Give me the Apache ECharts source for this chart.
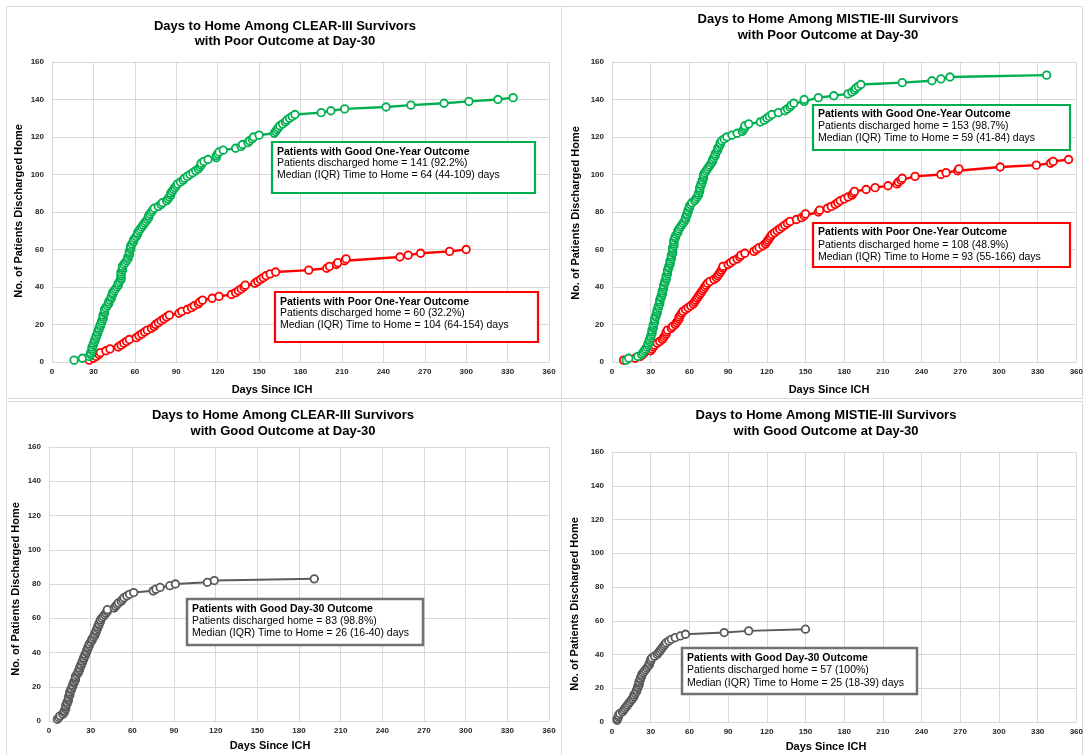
<!DOCTYPE html>
<html><head><meta charset="utf-8">
<script src="https://cdn.jsdelivr.net/npm/echarts@6/dist/echarts.min.js"></script>
<style>html,body{margin:0;padding:0;background:#fff}#c{width:1086px;height:755px}</style>
</head><body><div id="c"></div>
<script>
// Axis ticks
const dayTicks = [0,30,60,90,120,150,180,210,240,270,300,330,360];
const countTicks = [0,20,40,60,80,100,120,140,160];

// CLEAR-III, poor outcome at day-30: discharge days (cumulative order)
const clearPoorGoodYearDays = [16,22,27,28,28,29,29,29,30,30,31,31,32,32,33,33,34,34,35,35,36,36,37,37,37,38,38,38,39,40,41,41,42,43,43,44,44,45,46,47,48,48,49,50,50,50,50,50,51,51,51,52,53,54,55,55,56,56,56,57,57,57,58,59,59,60,61,62,62,63,64,65,66,67,68,69,70,70,71,72,73,74,77,79,80,83,84,85,86,86,87,88,89,90,91,93,95,96,98,100,102,104,106,107,108,108,110,113,119,119,120,121,124,133,137,138,142,143,145,146,150,161,162,163,164,165,167,169,170,172,174,176,195,202,212,242,260,284,302,323,334];
const clearPoorPoorYearDays = [27,30,32,34,35,39,42,48,50,52,54,56,61,63,65,67,69,72,74,75,77,79,81,83,85,92,94,98,101,103,106,107,109,116,121,130,133,135,137,139,140,147,149,151,153,155,158,162,186,199,201,206,207,212,213,252,258,267,288,300];
// MISTIE-III, poor outcome at day-30
const mistiePoorGoodYearDays = [11,13,20,23,24,25,26,27,28,28,29,29,30,30,31,31,31,32,32,32,33,33,33,34,34,35,35,35,36,36,37,37,37,38,38,39,39,39,40,40,40,41,41,42,42,42,43,43,43,44,44,45,45,45,46,46,46,47,47,47,47,48,48,48,48,49,49,50,51,51,52,53,54,55,56,57,57,58,58,59,59,60,60,61,62,64,65,66,67,67,68,68,68,69,69,70,70,71,71,71,72,73,74,75,76,77,78,78,79,80,80,81,82,82,83,84,84,85,87,89,93,97,101,102,103,103,106,115,118,120,122,124,129,134,136,138,139,141,149,149,160,172,183,186,188,189,191,193,225,248,255,262,337];
const mistiePoorPoorYearDays = [9,18,22,24,25,30,31,32,33,35,37,39,40,41,42,42,43,46,47,49,50,51,52,52,53,54,55,57,59,61,63,64,65,66,67,68,69,70,71,72,73,74,76,79,81,82,83,84,85,86,86,90,92,94,97,99,100,103,110,112,114,117,119,120,121,122,123,124,126,128,130,132,134,136,138,143,147,149,150,160,161,167,170,173,175,177,180,183,186,187,188,197,204,214,221,222,224,225,235,255,259,268,269,301,329,340,342,354];
// Good outcome at day-30
const clearGoodDays = [6,7,8,10,11,11,12,12,12,13,13,14,14,14,15,15,15,16,16,17,17,18,18,19,19,19,20,21,21,22,22,23,23,24,24,25,25,26,26,27,27,28,28,29,29,30,31,31,32,33,33,34,34,35,35,36,36,37,37,38,39,40,41,42,42,47,48,49,50,52,53,54,56,58,61,75,77,80,87,91,114,119,191];
const mistieGoodDays = [4,4,5,5,6,8,9,10,11,12,13,14,15,16,17,17,18,19,19,20,20,21,21,21,22,22,23,23,24,25,26,27,28,29,29,30,30,31,33,35,36,37,38,39,40,41,42,44,46,49,53,57,87,106,150];

const titles = [
  ['Days to Home Among CLEAR-III Survivors','with Poor Outcome at Day-30'],
  ['Days to Home Among MISTIE-III Survivors','with Poor Outcome at Day-30'],
  ['Days to Home Among CLEAR-III Survivors','with Good Outcome at Day-30'],
  ['Days to Home Among MISTIE-III Survivors','with Good Outcome at Day-30']
];
const boxTexts = [
  ['Patients with Good One-Year Outcome','Patients discharged home = 141 (92.2%)','Median (IQR) Time to Home = 64 (44-109) days'],
  ['Patients with Poor One-Year Outcome','Patients discharged home = 60 (32.2%)','Median (IQR) Time to Home = 104 (64-154) days'],
  ['Patients with Good One-Year Outcome','Patients discharged home = 153 (98.7%)','Median (IQR) Time to Home = 59 (41-84) days'],
  ['Patients with Poor One-Year Outcome','Patients discharged home = 108 (48.9%)','Median (IQR) Time to Home = 93 (55-166) days'],
  ['Patients with Good Day-30 Outcome','Patients discharged home = 83 (98.8%)','Median (IQR) Time to Home = 26 (16-40) days'],
  ['Patients with Good Day-30 Outcome','Patients discharged home = 57 (100%)','Median (IQR) Time to Home = 25 (18-39) days']
];
const xName = 'Days Since ICH';
const yName = 'No. of Patients Discharged Home';

const GREEN = '#00b050', RED = '#ff0000', GRAY = '#595959', BOXGRAY = '#767171';
const FONT = '"Liberation Sans", Arial, sans-serif';

const grids = [
  {left:52, top:62, width:497, height:300},
  {left:612, top:62, width:465, height:300},
  {left:49, top:447, width:500, height:274},
  {left:612, top:452, width:467, height:270}
];

const xAxes = grids.map((g,i)=>({
  type:'value', gridIndex:i, min:dayTicks[0], max:dayTicks[dayTicks.length-1],
  interval:dayTicks[1]-dayTicks[0],
  axisLine:{show:true, lineStyle:{color:'#d9d9d9', width:1}},
  axisTick:{show:false},
  splitLine:{show:true, lineStyle:{color:'#d9d9d9', width:1}},
  axisLabel:{fontSize:8, fontWeight:'bold', color:'#262626', margin:6, fontFamily:FONT}
}));
const yAxes = grids.map((g,i)=>({
  type:'value', gridIndex:i, min:countTicks[0], max:countTicks[countTicks.length-1],
  interval:countTicks[1]-countTicks[0],
  axisLine:{show:true, lineStyle:{color:'#d9d9d9', width:1}},
  axisTick:{show:false},
  splitLine:{show:true, lineStyle:{color:'#d9d9d9', width:1}},
  axisLabel:{fontSize:8, fontWeight:'bold', color:'#262626', margin:8, fontFamily:FONT}
}));

function mkSeries(days, idx, color, lw){
  return {
    type:'line', xAxisIndex:idx, yAxisIndex:idx,
    data: days.map((d,i)=>[d,i+1]),
    symbol:'circle', symbolSize:7.5, showAllSymbol:true,
    lineStyle:{color:color, width:lw},
    itemStyle:{color:'#ffffff', borderColor:color, borderWidth:1.8},
    emphasis:{disabled:true}, animation:false, z:3
  };
}

const series = [
  mkSeries(clearPoorPoorYearDays,0,RED,2.5),
  mkSeries(clearPoorGoodYearDays,0,GREEN,2.5),
  mkSeries(mistiePoorPoorYearDays,1,RED,2.5),
  mkSeries(mistiePoorGoodYearDays,1,GREEN,2.5),
  mkSeries(clearGoodDays,2,GRAY,2),
  mkSeries(mistieGoodDays,3,GRAY,2)
];

const graphic = [];
// panel borders
[[6,6,555,392],[561,6,521,392],[6,401,555,360],[561,401,521,360]].forEach(r=>{
  graphic.push({type:'rect', shape:{x:r[0]+0.5,y:r[1]+0.5,width:r[2],height:r[3]}, style:{fill:'none', stroke:'#d9d9d9', lineWidth:1}, z:0, silent:true});
});
// titles
const titlePos = [[285,26,41.5],[828,19.5,35],[283,415,431],[826,415.5,431.5]];
titles.forEach((t,i)=>{
  const p = titlePos[i];
  graphic.push({type:'text', x:p[0], y:p[1], style:{text:t[0], font:'bold 13px '+FONT, fill:'#000', textAlign:'center', textVerticalAlign:'middle'}, z:10});
  graphic.push({type:'text', x:p[0], y:p[2], style:{text:t[1], font:'bold 13px '+FONT, fill:'#000', textAlign:'center', textVerticalAlign:'middle'}, z:10});
});
// axis names
const xNamePos = [[272,390],[829,390],[270,746],[826,747]];
xNamePos.forEach(p=>graphic.push({type:'text', x:p[0], y:p[1], style:{text:xName, font:'bold 11px '+FONT, fill:'#000', textAlign:'center', textVerticalAlign:'middle'}, z:10}));
const yNamePos = [[19,211],[576,213],[16,589],[575,604]];
yNamePos.forEach(p=>graphic.push({type:'text', x:p[0], y:p[1], rotation:Math.PI/2, style:{text:yName, font:'bold 11px '+FONT, fill:'#000', textAlign:'center', textVerticalAlign:'middle'}, z:10}));
// annotation boxes: [x, y, w, h, color, borderWidth, textX, line1Y, line2Y, line3Y]
const boxes = [
  [272,142,263,51,GREEN,2.2,277,152,163.5,175.5],
  [275,292,263,50,RED,2.2,280,302,313.5,325.5],
  [813,105,257,45,GREEN,2.2,818,114,126.5,138.5],
  [813,223,257,44,RED,2.2,818,232.5,245,257.5],
  [187,599,236,46,BOXGRAY,2.5,192,609,621,633.5],
  [682,648,235,46,BOXGRAY,2.5,687,658.5,670.5,683.5]
];
boxes.forEach((b,i)=>{
  graphic.push({type:'rect', shape:{x:b[0],y:b[1],width:b[2],height:b[3]}, style:{fill:'#fff', stroke:b[4], lineWidth:b[5]}, z:20});
  const t = boxTexts[i];
  graphic.push({type:'text', x:b[6], y:b[7], style:{text:t[0], font:'bold 10.5px '+FONT, fill:'#000', textVerticalAlign:'middle'}, z:21});
  graphic.push({type:'text', x:b[6], y:b[8], style:{text:t[1], font:'10.5px '+FONT, fill:'#000', textVerticalAlign:'middle'}, z:21});
  graphic.push({type:'text', x:b[6], y:b[9], style:{text:t[2], font:'10.5px '+FONT, fill:'#000', textVerticalAlign:'middle'}, z:21});
});

const chart = echarts.init(document.getElementById('c'), null, {renderer:'canvas'});
chart.setOption({
  animation:false,
  backgroundColor:'#ffffff',
  grid: grids,
  xAxis: xAxes,
  yAxis: yAxes,
  series: series,
  graphic: graphic
});
</script>
</body></html>
